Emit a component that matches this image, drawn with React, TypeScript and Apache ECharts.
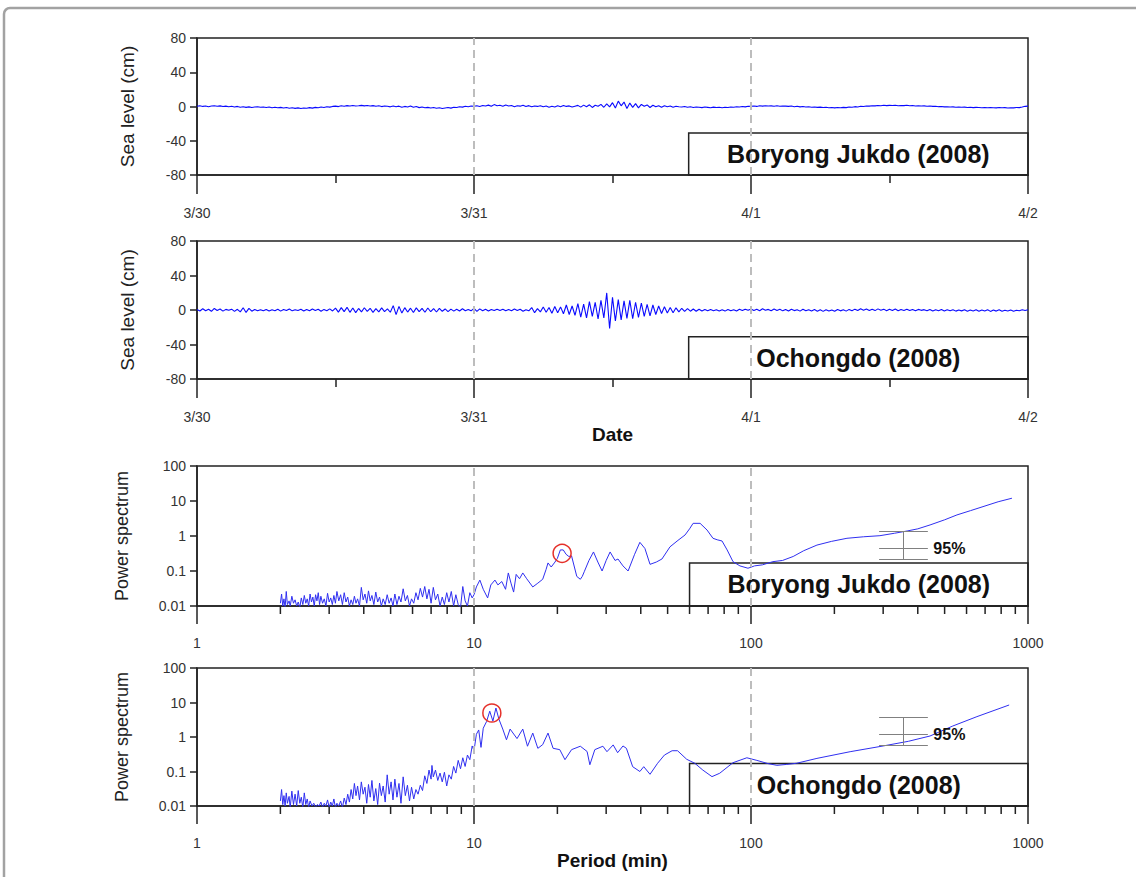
import React, { useEffect, useRef } from "react";
import * as echarts from "echarts";

// ---------- tick labels / categories ----------
const DATE_TICKS = ["3/30", "3/31", "4/1", "4/2"];
const HOURS_PER_DAY = 24;
const SAMPLE_STEP_H = 0.25; // sea-level sampling step (hours)
const DAY_GUIDES = [24, 48]; // dashed guides at 3/31 and 4/1
const PERIOD_GUIDES = [10, 100]; // dashed guides (min)
const PERIOD_MINOR_TICKS = [2, 3, 4, 5, 6, 7, 8, 9, 20, 30, 40, 50, 60, 70, 80, 90, 200, 300, 400, 500, 600, 700, 800, 900];
const STATION_NAMES = ["Boryong Jukdo (2008)", "Ochongdo (2008)"];

// ---------- sea level (cm), one value every 15 min from 3/30 00:00 ----------
const boryongLevel = [
  0.3, 0.8, 0.1, 0.6, -0.2, 0.5, 0.9, 0.2, 0.7, 0.0, 0.4, -0.3,
  0.2, -0.5, 0.1, -0.8, -0.3, -1.0, -0.4, -1.2, -0.6, -0.2, -0.9, -0.5,
  -1.1, -0.6, -1.4, -0.8, -1.5, -1.0, -1.8, -1.2, -2.0, -1.4, -2.2, -1.6,
  -2.4, -1.7, -2.1, -1.3, -1.9, -1.0, -1.4, -0.6, -1.1, -0.3, -0.7, 0.1,
  0.4, -0.1, 0.8, 0.3, 1.0, 0.5, 1.2, 0.6, 0.9, 1.3, 0.7, 1.1,
  0.6, 1.0, 0.2, 0.8, -0.1, 0.5, 0.3, -0.4, 0.6, -0.2, 0.4, -0.8,
  0.1, -0.5, 0.7, -0.9, -0.1, -1.3, -0.6, -1.5, -1.0, -1.8, -1.2, -2.1,
  -1.5, -2.3, -1.7, -1.1, -1.9, -0.8, -1.2, -0.3, -0.7, 0.2, -0.2, 0.6,
  0.3, 0.9, 0.1, 1.1, 0.5, 1.6, 0.2, 2.2, 0.8, 1.4, 0.3, 1.7,
  0.6, 1.2, -0.2, 0.9, 0.4, 1.5, 0.0, 1.0, -0.4, 0.6, 0.1, 0.9,
  -0.3, 0.5, -0.8, 0.2, -0.5, 0.8, -0.2, 1.2, 0.1, 0.7, -0.6, 0.4,
  1.3, -0.7, 1.6, -0.2, 2.0, -1.1, 1.4, 0.3, 2.5, -0.9, 3.1, -0.4,
  4.5, -1.8, 6.3, 0.8, 5.2, -2.4, 4.0, -1.0, 3.3, -1.6, 2.4, 0.2,
  1.8, -1.2, 1.5, -0.4, 1.0, -0.8, 0.9, -0.3, 0.5, -0.9, 0.3, -0.2,
  -0.6, 0.1, -0.9, -0.3, -1.1, -0.5, -0.8, -1.3, -0.6, -1.0, -1.4, -0.7,
  -1.2, -0.9, -1.5, -0.8, -1.1, -0.5, -0.9, -0.3, -0.6, 0.0, -0.4, 0.2,
  0.3, 0.6, 0.1, 0.8, 0.4, 0.9, 0.5, 0.7, 0.3, 0.8, 0.2, 0.6,
  0.4, 0.1, 0.5, -0.2, 0.3, -0.4, 0.0, -0.6, -0.3, -0.8, -0.5, -1.0,
  -0.7, -1.2, -0.9, -1.4, -1.1, -1.6, -1.2, -1.5, -1.0, -1.3, -0.6, -0.9,
  -0.2, -0.5, 0.3, 0.0, 0.6, 0.4, 0.9, 0.7, 1.2, 0.8, 1.4, 1.0,
  1.3, 1.1, 1.5, 0.9, 1.2, 1.0, 1.4, 0.8, 1.1, 0.6, 0.9, 0.5,
  0.7, 0.3, 0.5, 0.1, 0.2, -0.2, 0.0, -0.4, -0.3, -0.6, -0.4, -0.8,
  -0.6, -0.9, -0.7, -1.1, -0.9, -1.3, -1.0, -1.2, -1.4, -1.1, -1.5, -1.2,
  -1.4, -1.6, -1.2, -1.5, -1.3, -1.7, -1.4, -1.6, -1.1, -1.3, -0.6, 0.2,
  0.4,
];

const ochongdoLevel = [
  0.5, -1.2, 1.4, -0.8, 0.9, -1.5, 1.8, -0.6, 1.1, -1.3, 0.7, -0.4,
  1.0, -1.6, 0.8, -2.2, 2.6, -2.8, 1.9, -1.4, 0.6, -1.0, 0.4, -0.9,
  0.7, -1.1, 0.3, -0.8, 0.9, -1.3, 0.5, -0.7, 1.1, -1.0, 0.4, -0.6,
  0.8, -1.2, 0.6, -0.9, 1.2, -0.5, 0.9, -1.4, 0.7, -0.8, 1.3, -1.1,
  2.2, -2.5, 2.8, -1.9, 3.1, -2.7, 2.4, -3.0, 1.8, -2.2, 2.6, -1.6,
  2.0, -2.8, 1.5, -2.1, 2.4, -1.8, 1.2, -2.6, 5.1, -5.4, 4.2, -3.6,
  2.7, -2.4, 2.1, -2.9, 2.5, -1.8, 1.9, -2.6, 2.3, -2.0, 1.6, -2.3,
  1.9, -1.5, 1.2, -1.8, 1.0, -1.3, 0.8, -1.1, 1.4, -0.9, 0.6, -1.0,
  1.8, -1.6, 1.3, -0.8, 0.9, -1.1, 0.6, -0.7, 1.0, -0.5, 0.8, -0.9,
  0.5, -0.8, 1.2, -0.6, 0.9, -1.4, 0.4, -0.9, 2.8, -3.1, 1.6, -2.2,
  3.4, -2.6, 2.9, -3.8, 4.1, -3.2, 3.6, -4.4, 5.8, -5.2, 4.6, -6.1,
  7.4, -8.2, 6.8, -9.1, 9.6, -7.5, 8.8, -10.4, 11.2, -9.3, 19.8, -21.5,
  14.6, -12.8, 12.1, -11.4, 10.5, -9.8, 11.2, -10.1, 9.0, -8.6, 8.1, -7.4,
  6.5, -6.9, 5.8, -5.2, 4.6, -4.1, 3.8, -3.5, 2.9, -3.2, 2.5, -2.1,
  2.0, -1.7, 1.6, -1.4, 1.1, -1.5, 0.9, -1.2, 0.6, -1.0, 0.5, -0.8,
  0.4, -1.1, 0.2, -1.3, 0.6, -0.9, 0.3, -1.2, 0.8, -0.6, 1.0, -0.4,
  1.2, -0.5, 0.9, -0.8, 1.4, -0.3, 0.7, -0.9, 1.1, -0.6, 0.8, -1.0,
  0.6, -1.2, 0.9, -0.7, 0.4, -1.3, 0.8, -0.9, 0.3, -1.1, 0.5, -1.4,
  0.2, -1.6, 0.4, -1.2, 0.1, -1.5, 0.6, -1.0, 0.3, -1.3, 0.7, -0.8,
  1.0, -0.6, 1.4, -0.3, 1.1, -0.5, 0.9, -0.7, 1.3, -0.4, 1.0, -0.8,
  0.8, -0.6, 1.1, -0.9, 0.6, -0.5, 0.9, -0.7, 0.5, -1.0, 0.7, -0.4,
  0.4, -0.9, 0.6, -1.1, 0.3, -0.8, 0.5, -1.2, 0.2, -0.9, 0.4, -1.3,
  0.1, -1.0, 0.3, -1.4, 0.0, -1.1, 0.2, -1.5, -0.1, -1.2, 0.3, -1.6,
  0.0, -1.3, 0.2, -1.5, -0.2, -1.1, 0.1, -1.4, -0.3, -0.9, 0.2, -0.6,
  0.3,
];

// ---------- power spectra: [period (min), power] ----------
const boryongSpectrum = [
  [2.0, 0.012], [2.02, 0.022], [2.04, 0.01], [2.06, 0.016], [2.08, 0.009], [2.1, 0.026], [2.12, 0.011], [2.15, 0.014],
  [2.17, 0.01], [2.2, 0.019], [2.23, 0.012], [2.26, 0.015], [2.29, 0.01], [2.32, 0.013], [2.35, 0.009], [2.38, 0.017],
  [2.41, 0.011], [2.44, 0.02], [2.47, 0.012], [2.5, 0.016], [2.53, 0.01], [2.56, 0.022], [2.59, 0.013], [2.62, 0.018],
  [2.65, 0.01], [2.68, 0.021], [2.71, 0.014], [2.74, 0.024], [2.77, 0.011], [2.8, 0.019], [2.84, 0.012], [2.88, 0.016],
  [2.92, 0.01], [2.96, 0.023], [3.0, 0.013], [3.04, 0.017], [3.08, 0.011], [3.12, 0.02], [3.16, 0.012], [3.2, 0.026],
  [3.25, 0.014], [3.3, 0.021], [3.35, 0.011], [3.4, 0.024], [3.45, 0.013], [3.5, 0.018], [3.55, 0.01], [3.6, 0.015],
  [3.65, 0.011], [3.7, 0.019], [3.75, 0.012], [3.8, 0.016], [3.86, 0.01], [3.92, 0.034], [3.98, 0.015], [4.04, 0.022],
  [4.1, 0.012], [4.16, 0.027], [4.22, 0.014], [4.28, 0.02], [4.35, 0.011], [4.42, 0.025], [4.49, 0.013], [4.56, 0.018],
  [4.63, 0.01], [4.7, 0.016], [4.78, 0.011], [4.86, 0.021], [4.94, 0.012], [5.02, 0.017], [5.1, 0.01], [5.18, 0.022],
  [5.27, 0.011], [5.36, 0.019], [5.45, 0.013], [5.55, 0.031], [5.65, 0.014], [5.75, 0.02], [5.85, 0.01], [5.95, 0.016],
  [6.06, 0.012], [6.17, 0.024], [6.28, 0.015], [6.4, 0.032], [6.52, 0.018], [6.64, 0.036], [6.76, 0.016], [6.88, 0.03],
  [7.0, 0.012], [7.13, 0.034], [7.26, 0.015], [7.4, 0.022], [7.54, 0.01], [7.68, 0.018], [7.82, 0.011], [7.97, 0.024],
  [8.12, 0.013], [8.28, 0.026], [8.44, 0.01], [8.6, 0.021], [8.77, 0.011], [8.94, 0.009], [9.11, 0.036], [9.29, 0.014],
  [9.47, 0.01], [9.66, 0.024], [9.85, 0.017], [10.0, 0.021], [10.2, 0.035], [10.5, 0.055], [10.8, 0.03], [11.2, 0.017],
  [11.5, 0.04], [11.9, 0.055], [12.2, 0.04], [12.6, 0.05], [13.0, 0.03], [13.3, 0.088], [13.6, 0.045], [13.9, 0.025],
  [14.2, 0.08], [14.6, 0.06], [15.0, 0.088], [15.5, 0.06], [16.3, 0.035], [17.0, 0.045], [17.7, 0.058], [18.2, 0.11],
  [18.5, 0.17], [19.0, 0.13], [19.6, 0.18], [20.0, 0.23], [20.5, 0.4], [21.0, 0.4], [21.5, 0.3], [22.0, 0.26],
  [22.5, 0.27], [23.5, 0.07], [24.2, 0.058], [24.6, 0.07], [25.0, 0.095], [26.0, 0.2], [27.0, 0.35], [28.0, 0.18],
  [29.0, 0.1], [30.0, 0.2], [31.0, 0.35], [32.3, 0.2], [33.1, 0.22], [34.5, 0.14], [36.0, 0.1], [38.0, 0.3],
  [39.7, 0.66], [41.4, 0.44], [43.2, 0.155], [45.5, 0.18], [47.7, 0.22], [51.0, 0.49], [54.5, 0.75], [57.8, 1.07],
  [60.0, 1.6], [61.8, 2.3], [65.5, 2.3], [69.4, 1.48], [72.9, 0.86], [75.5, 0.78], [78.6, 0.72], [82.0, 0.4],
  [86.1, 0.185], [91.2, 0.14], [97.5, 0.12], [103, 0.14], [110, 0.15], [120, 0.185], [130, 0.2], [142, 0.26],
  [155, 0.38], [173, 0.55], [195, 0.7], [222, 0.86], [255, 0.95], [292, 1.02], [330, 1.2], [366, 1.39],
  [400, 1.6], [443, 2.07], [500, 2.9], [554, 4.0], [620, 5.3], [688, 6.9], [780, 9.5], [875, 12.0],
];

const ochongdoSpectrum = [
  [2.0, 0.014], [2.02, 0.03], [2.04, 0.011], [2.06, 0.02], [2.08, 0.01], [2.1, 0.024], [2.12, 0.012], [2.15, 0.019],
  [2.17, 0.009], [2.2, 0.027], [2.23, 0.011], [2.26, 0.022], [2.29, 0.01], [2.32, 0.028], [2.35, 0.012], [2.38, 0.018],
  [2.41, 0.009], [2.44, 0.024], [2.47, 0.011], [2.5, 0.016], [2.53, 0.009], [2.56, 0.014], [2.6, 0.01], [2.64, 0.012],
  [2.68, 0.009], [2.72, 0.011], [2.76, 0.01], [2.8, 0.013], [2.84, 0.009], [2.88, 0.012], [2.92, 0.01], [2.96, 0.015],
  [3.0, 0.009], [3.04, 0.013], [3.08, 0.01], [3.12, 0.016], [3.16, 0.009], [3.2, 0.012], [3.25, 0.01], [3.3, 0.014],
  [3.35, 0.009], [3.4, 0.017], [3.45, 0.011], [3.5, 0.022], [3.55, 0.013], [3.6, 0.03], [3.65, 0.016], [3.7, 0.045],
  [3.75, 0.02], [3.8, 0.038], [3.86, 0.015], [3.92, 0.05], [3.98, 0.022], [4.04, 0.035], [4.1, 0.012], [4.16, 0.042],
  [4.22, 0.018], [4.28, 0.055], [4.35, 0.014], [4.42, 0.032], [4.49, 0.011], [4.56, 0.046], [4.63, 0.02], [4.7, 0.038],
  [4.78, 0.013], [4.86, 0.08], [4.94, 0.022], [5.02, 0.05], [5.1, 0.015], [5.18, 0.06], [5.27, 0.018], [5.36, 0.045],
  [5.45, 0.012], [5.55, 0.07], [5.65, 0.02], [5.75, 0.04], [5.85, 0.014], [5.95, 0.035], [6.06, 0.016], [6.17, 0.03],
  [6.28, 0.022], [6.4, 0.04], [6.52, 0.028], [6.64, 0.075], [6.76, 0.045], [6.88, 0.11], [7.0, 0.06], [7.05, 0.15],
  [7.13, 0.07], [7.26, 0.11], [7.4, 0.055], [7.54, 0.09], [7.68, 0.05], [7.82, 0.095], [7.97, 0.038], [8.12, 0.08],
  [8.28, 0.06], [8.44, 0.14], [8.6, 0.09], [8.77, 0.21], [8.94, 0.12], [9.11, 0.25], [9.29, 0.14], [9.47, 0.3],
  [9.66, 0.22], [9.85, 0.55], [10.0, 0.4], [10.2, 1.2], [10.4, 1.6], [10.6, 0.5], [10.8, 1.8], [11.1, 2.8],
  [11.4, 5.6], [11.7, 2.9], [12.0, 6.9], [12.3, 3.3], [12.7, 1.7], [13.1, 0.83], [13.5, 1.7], [14.3, 0.9],
  [15.0, 1.7], [15.6, 0.54], [16.3, 1.3], [17.0, 0.47], [17.7, 0.6], [18.5, 1.3], [19.3, 0.47], [20.4, 0.43],
  [21.3, 0.22], [22.5, 0.43], [24.2, 0.54], [25.6, 0.38], [26.2, 0.157], [27.3, 0.43], [29.2, 0.54], [30.2, 0.375],
  [31.8, 0.59], [33.0, 0.35], [34.5, 0.55], [35.5, 0.47], [37.4, 0.138], [39.7, 0.1], [41.0, 0.138], [43.2, 0.083],
  [46.0, 0.173], [48.7, 0.3], [51.9, 0.4], [54.3, 0.4], [58.6, 0.226], [62.7, 0.173], [67.0, 0.11], [72.3, 0.071],
  [77.1, 0.089], [86.1, 0.18], [96.6, 0.25], [105, 0.21], [115, 0.17], [124, 0.151], [134, 0.16], [146, 0.173],
  [173, 0.24], [228, 0.375], [300, 0.55], [370, 0.75], [443, 1.07], [535, 2.08], [654, 3.89], [855, 8.47],
];

// highlighted spectral peaks [period, power]
const boryongPeak = [20.8, 0.32];
const ochongdoPeak = [11.6, 4.96];

// 95% confidence bars: periods [left, centre, right], power [lower, centre, upper]
const boryongCiPeriods = [290, 354, 435];
const boryongCiPower = [0.216, 0.445, 1.39];
const ochongdoCiPeriods = [290, 354, 435];
const ochongdoCiPower = [0.56, 1.2, 3.72];

// station label boxes: [left x value, top y value]
const levelBox = [42.6, -31];
const spectrumBox = [60, 0.17];

// ---------- styling ----------
const FONT = "'Liberation Sans', Arial, Helvetica, sans-serif";
const AXIS = "#222";
const LABEL = "#333";

const grids = [
  { left: 197, top: 38, width: 831, height: 137 },
  { left: 197, top: 241, width: 831, height: 138 },
  { left: 197, top: 466, width: 831, height: 140 },
  { left: 197, top: 668, width: 831, height: 138 },
];

const fmtNum = (v: number) => String(Number(Number(v).toPrecision(3)));

function timeXAxis(gridIndex: number, name?: string) {
  return {
    type: "value",
    gridIndex,
    min: 0,
    max: HOURS_PER_DAY * (DATE_TICKS.length - 1),
    interval: HOURS_PER_DAY,
    name: name || "",
    nameLocation: "middle",
    nameGap: 46,
    nameTextStyle: { fontFamily: FONT, fontSize: 19, fontWeight: "bold", color: "#111" },
    axisLine: { show: true, onZero: false, lineStyle: { color: AXIS, width: 1.5 } },
    axisTick: { show: true, length: 19, lineStyle: { color: AXIS, width: 1.5 } },
    minorTick: { show: true, splitNumber: 2, length: 8, lineStyle: { color: AXIS, width: 1.5 } },
    axisLabel: {
      margin: 31,
      fontFamily: FONT,
      fontSize: 14,
      color: LABEL,
      showMinLabel: true,
      showMaxLabel: true,
      formatter: (v: number) => DATE_TICKS[Math.round(v / HOURS_PER_DAY)],
    },
    splitLine: { show: false },
    minorSplitLine: { show: false },
  };
}

function levelYAxis(gridIndex: number) {
  return {
    type: "value",
    gridIndex,
    min: -80,
    max: 80,
    interval: 40,
    name: "Sea level (cm)",
    nameLocation: "middle",
    nameGap: 60,
    nameTextStyle: { fontFamily: FONT, fontSize: 19, color: "#222" },
    axisLine: { show: true, onZero: false, lineStyle: { color: AXIS, width: 1.5 } },
    axisTick: { show: true, length: 7, lineStyle: { color: AXIS, width: 1.5 } },
    axisLabel: { margin: 11, fontFamily: FONT, fontSize: 14, color: LABEL, showMinLabel: true, showMaxLabel: true },
    splitLine: { show: false },
  };
}

function periodXAxis(gridIndex: number, name?: string) {
  return {
    type: "log",
    logBase: 10,
    gridIndex,
    min: 1,
    max: 1000,
    name: name || "",
    nameLocation: "middle",
    nameGap: 45,
    nameTextStyle: { fontFamily: FONT, fontSize: 19, fontWeight: "bold", color: "#111" },
    axisLine: { show: true, onZero: false, lineStyle: { color: AXIS, width: 1.5 } },
    axisTick: { show: true, length: 18, lineStyle: { color: AXIS, width: 1.5 } },
    axisLabel: {
      margin: 30,
      fontFamily: FONT,
      fontSize: 14,
      color: LABEL,
      showMinLabel: true,
      showMaxLabel: true,
      formatter: fmtNum,
    },
    splitLine: { show: false },
  };
}

function powerYAxis(gridIndex: number) {
  return {
    type: "log",
    logBase: 10,
    gridIndex,
    min: 0.01,
    max: 100,
    name: "Power spectrum",
    nameLocation: "middle",
    nameGap: 66,
    nameTextStyle: { fontFamily: FONT, fontSize: 18, color: "#222" },
    axisLine: { show: true, onZero: false, lineStyle: { color: AXIS, width: 1.5 } },
    axisTick: { show: true, length: 7, lineStyle: { color: AXIS, width: 1.5 } },
    axisLabel: { margin: 11, fontFamily: FONT, fontSize: 14, color: LABEL, showMinLabel: true, showMaxLabel: true, formatter: fmtNum },
    splitLine: { show: false },
  };
}

const guideLine = (values: number[]) => ({
  silent: true,
  symbol: ["none", "none"],
  label: { show: false },
  lineStyle: { color: "#bdbdbd", type: [8, 5], width: 2 },
  data: values.map((v) => ({ xAxis: v })),
});

const stationBox = (name: string, corner: number[], yMin: number, xMax: number) => ({
  silent: true,
  itemStyle: { color: "rgba(0,0,0,0)", borderColor: AXIS, borderWidth: 1.5 },
  label: {
    show: true,
    position: "inside",
    formatter: name,
    fontFamily: FONT,
    fontSize: 25,
    fontWeight: "bold",
    color: "#111",
  },
  data: [[{ xAxis: corner[0], yAxis: yMin }, { xAxis: xMax, yAxis: corner[1] }]],
});

const peakMark = (p: number[]) => ({
  silent: true,
  symbol: "circle",
  symbolSize: 18,
  itemStyle: { color: "rgba(0,0,0,0)", borderColor: "#e5302a", borderWidth: 1.5 },
  label: { show: false },
  data: [{ coord: p }],
});

function ciSeries(idx: number, periods: number[], power: number[]) {
  const [pl, pc, pr] = periods;
  const [lo, mid, hi] = power;
  return {
    type: "line",
    xAxisIndex: idx,
    yAxisIndex: idx,
    data: [],
    silent: true,
    markLine: {
      silent: true,
      symbol: ["none", "none"],
      label: { show: false },
      lineStyle: { color: "#808080", type: "solid", width: 1 },
      data: [
        [{ coord: [pl, hi] }, { coord: [pr, hi] }],
        [{ coord: [pl, mid] }, { coord: [pr, mid] }],
        [{ coord: [pl, lo] }, { coord: [pr, lo] }],
        [{ coord: [pc, hi] }, { coord: [pc, lo] }],
      ],
    },
    markPoint: {
      silent: true,
      symbol: "circle",
      symbolSize: 1,
      itemStyle: { color: "rgba(0,0,0,0)" },
      label: {
        show: true,
        position: "right",
        distance: 5,
        formatter: "95%",
        fontFamily: FONT,
        fontSize: 16,
        fontWeight: "bold",
        color: "#111",
      },
      data: [{ coord: [pr, mid] }],
    },
  };
}

function minorTickSeries(idx: number) {
  return {
    type: "custom",
    xAxisIndex: idx,
    yAxisIndex: idx,
    silent: true,
    clip: false,
    data: PERIOD_MINOR_TICKS.map((v) => [v, 0.01]),
    renderItem: (_params: any, api: any) => {
      const p = api.coord([api.value(0), api.value(1)]);
      return {
        type: "line",
        shape: { x1: p[0], y1: p[1], x2: p[0], y2: p[1] + 8 },
        style: { stroke: AXIS, lineWidth: 1.5 },
      };
    },
  };
}

function buildOption() {
  const levelSeries = (idx: number, values: number[], name: string) => ({
    type: "line",
    xAxisIndex: idx,
    yAxisIndex: idx,
    data: values.map((v, i) => [i * SAMPLE_STEP_H, v]),
    showSymbol: false,
    symbol: "none",
    silent: true,
    lineStyle: { color: "#0a0aff", width: 1.1 },
    markLine: guideLine(DAY_GUIDES),
    markArea: stationBox(name, levelBox, -80, 72),
  });
  const spectrumSeries = (idx: number, data: number[][], name: string, peak: number[]) => ({
    type: "line",
    xAxisIndex: idx,
    yAxisIndex: idx,
    data,
    showSymbol: false,
    symbol: "none",
    silent: true,
    lineStyle: { color: "#2f2ff0", width: 1 },
    markLine: guideLine(PERIOD_GUIDES),
    markArea: stationBox(name, spectrumBox, 0.01, 1000),
    markPoint: peakMark(peak),
  });

  return {
    animation: false,
    backgroundColor: "#ffffff",
    textStyle: { fontFamily: FONT },
    grid: grids.map((g) => ({ ...g, show: true, borderColor: AXIS, borderWidth: 1.5, backgroundColor: "rgba(0,0,0,0)" })),
    xAxis: [timeXAxis(0), timeXAxis(1, "Date"), periodXAxis(2), periodXAxis(3, "Period (min)")],
    yAxis: [levelYAxis(0), levelYAxis(1), powerYAxis(2), powerYAxis(3)],
    graphic: [
      {
        type: "rect",
        silent: true,
        z: -10,
        shape: { x: 4, y: 8, width: 1160, height: 900, r: 6 },
        style: { fill: "rgba(0,0,0,0)", stroke: "#a2a2a2", lineWidth: 2.5 },
      },
    ],
    series: [
      levelSeries(0, boryongLevel, STATION_NAMES[0]),
      levelSeries(1, ochongdoLevel, STATION_NAMES[1]),
      spectrumSeries(2, boryongSpectrum, STATION_NAMES[0], boryongPeak),
      spectrumSeries(3, ochongdoSpectrum, STATION_NAMES[1], ochongdoPeak),
      ciSeries(2, boryongCiPeriods, boryongCiPower),
      ciSeries(3, ochongdoCiPeriods, ochongdoCiPower),
      minorTickSeries(2),
      minorTickSeries(3),
    ],
  };
}

export default function App() {
  const ref = useRef<HTMLDivElement>(null);
  useEffect(() => {
    if (!ref.current) return;
    const chart = echarts.init(ref.current, undefined, { renderer: "svg" });
    chart.setOption(buildOption() as any);
    return () => chart.dispose();
  }, []);
  return (
    <div
      ref={ref}
      style={{ position: "absolute", left: 0, top: 0, width: 1136, height: 877, background: "#fff" }}
    />
  );
}
